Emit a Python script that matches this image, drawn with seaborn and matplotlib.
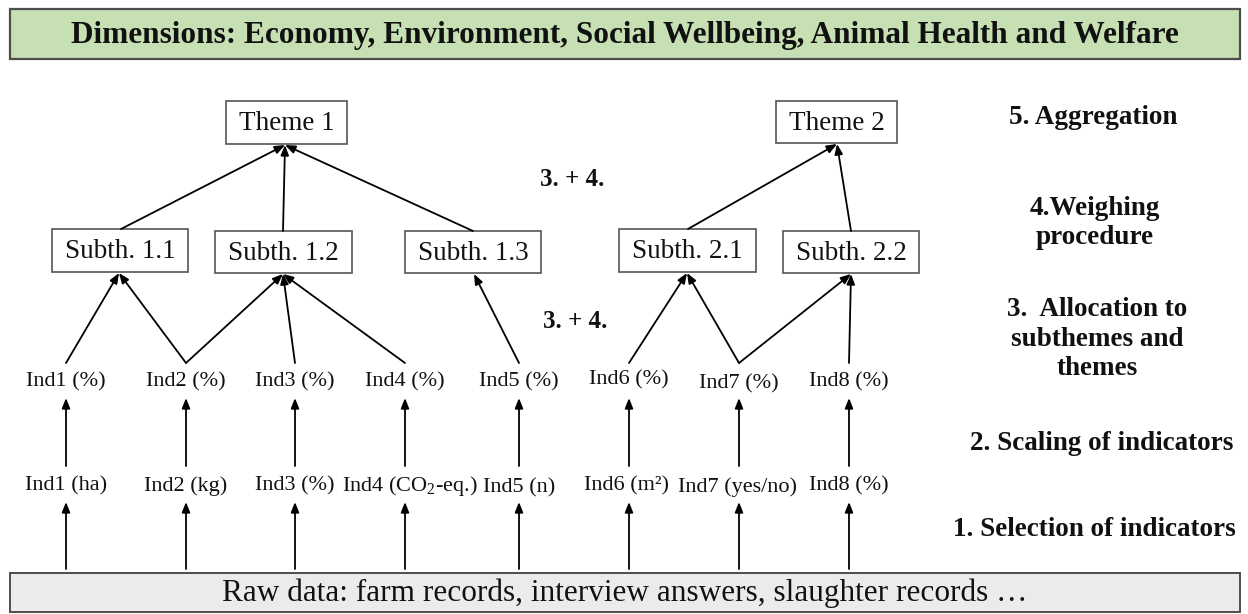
import matplotlib
matplotlib.use("Agg")
import matplotlib.pyplot as plt
from matplotlib.patches import Rectangle, FancyArrowPatch
import seaborn as sns

sns.set_theme(style="white")
plt.rcParams["font.family"] = ["Liberation Serif", "DejaVu Serif"]
plt.rcParams["mathtext.fontset"] = "custom"
plt.rcParams["mathtext.rm"] = "Liberation Serif"

# text content
title = "Dimensions: Economy, Environment, Social Wellbeing, Animal Health and Welfare"
raw_text = "Raw data: farm records, interview answers, slaughter records \u2026"
themes = ["Theme 1", "Theme 2"]
subthemes = ["Subth. 1.1", "Subth. 1.2", "Subth. 1.3", "Subth. 2.1", "Subth. 2.2"]
scaled_inds = ["Ind1 (%)", "Ind2 (%)", "Ind3 (%)", "Ind4 (%)", "Ind5 (%)",
               "Ind6 (%)", "Ind7 (%)", "Ind8 (%)"]
raw_inds = ["Ind1 (ha)", "Ind2 (kg)", "Ind3 (%)", r"Ind4 (CO$_2$-eq.)", "Ind5 (n)",
            "Ind6 (m\u00b2)", "Ind7 (yes/no)", "Ind8 (%)"]
steps = ["5. Aggregation", "4.Weighing\nprocedure", "3.  Allocation to\nsubthemes and\nthemes",
         "2. Scaling of indicators", "1. Selection of indicators"]
# which indicator feeds which subtheme, which subtheme feeds which theme
ind_to_sub = [(0, 0), (1, 0), (1, 1), (2, 1), (3, 1), (4, 2), (5, 3), (6, 3), (6, 4), (7, 4)]
sub_to_theme = [(0, 0), (1, 0), (2, 0), (3, 1), (4, 1)]

# layout (pixels)
theme_boxes = [(226, 101, 347, 144), (776, 101, 897, 143)]
sub_boxes = [(52, 229, 188, 272), (215, 231, 352, 273), (405, 231, 541, 273),
             (619, 229, 756, 272), (783, 231, 919, 273)]
theme_tips = [(285, 145), (837, 144)]
sub_tops = [(121, 229), (283, 231), (473, 231), (688, 229), (851, 231)]
sub_tips = [(119, 273), (283, 274), (474, 274), (687, 273), (851, 274)]
ind_x = [66, 186, 295, 405, 519, 629, 739, 849]
scaled_y = [382, 382, 382, 382, 382, 380, 384, 382]
raw_y = [486, 486, 486, 486, 488, 486, 487, 486]
raw_x = [66, 186, 295, 410, 519, 627, 738, 849]
step_pos = [(1093, 117), (1095, 223), (1097, 339), (1102, 444), (1094, 530)]

fig = plt.figure(figsize=(12.48, 6.14), dpi=100)
ax = fig.add_axes([0, 0, 1, 1])
ax.set_xlim(0, 1248)
ax.set_ylim(614, 0)
ax.axis("off")


def box(x0, y0, x1, y1, label, fs=19.5, fc="white", ec="#555555", lw=1.2, weight="normal"):
    ax.add_patch(Rectangle((x0, y0), x1 - x0, y1 - y0, facecolor=fc, edgecolor=ec, lw=lw))
    ax.text((x0 + x1) / 2, (y0 + y1) / 2 + 1, label, ha="center", va="center",
            fontsize=fs, weight=weight, color="#111111")


def arrow(start, end):
    ax.add_patch(FancyArrowPatch(start, end, arrowstyle="-|>,head_length=0.5,head_width=0.2",
                                 mutation_scale=12, lw=1.3, color="black",
                                 shrinkA=0, shrinkB=0))


# banners
box(10, 9, 1240, 59, title, fs=22.5, fc="#c6e0b4", ec="#4d4d4d", lw=1.6, weight="bold")
box(10, 573, 1240, 612, raw_text, fs=22.5, fc="#ebebeb", ec="#4d4d4d", lw=1.4)

# theme / subtheme boxes
for (x0, y0, x1, y1), lab in zip(theme_boxes, themes):
    box(x0, y0, x1, y1, lab)
for (x0, y0, x1, y1), lab in zip(sub_boxes, subthemes):
    box(x0, y0, x1, y1, lab)

# indicator labels
for x, y, lab in zip(ind_x, scaled_y, scaled_inds):
    ax.text(x, y, lab, ha="center", va="center", fontsize=16, color="#111111")
for x, y, lab in zip(raw_x, raw_y, raw_inds):
    ax.text(x, y, lab, ha="center", va="center", fontsize=16, color="#111111")

# arrows
for x in ind_x:
    arrow((x, 569), (x, 502))
    arrow((x, 466), (x, 398))
for i, s in ind_to_sub:
    arrow((ind_x[i], 363), sub_tips[s])
for s, t in sub_to_theme:
    arrow(sub_tops[s], theme_tips[t])

# step labels
for (x, y), lab in zip(step_pos, steps):
    ax.text(x, y, lab, ha="center", va="center", fontsize=19.5, weight="bold",
            color="#111111", linespacing=1.22)
ax.text(572, 180, "3. + 4.", ha="center", va="center", fontsize=18, weight="bold", color="#111111")
ax.text(575, 322, "3. + 4.", ha="center", va="center", fontsize=18, weight="bold", color="#111111")

fig.savefig("out.png", dpi=100)
